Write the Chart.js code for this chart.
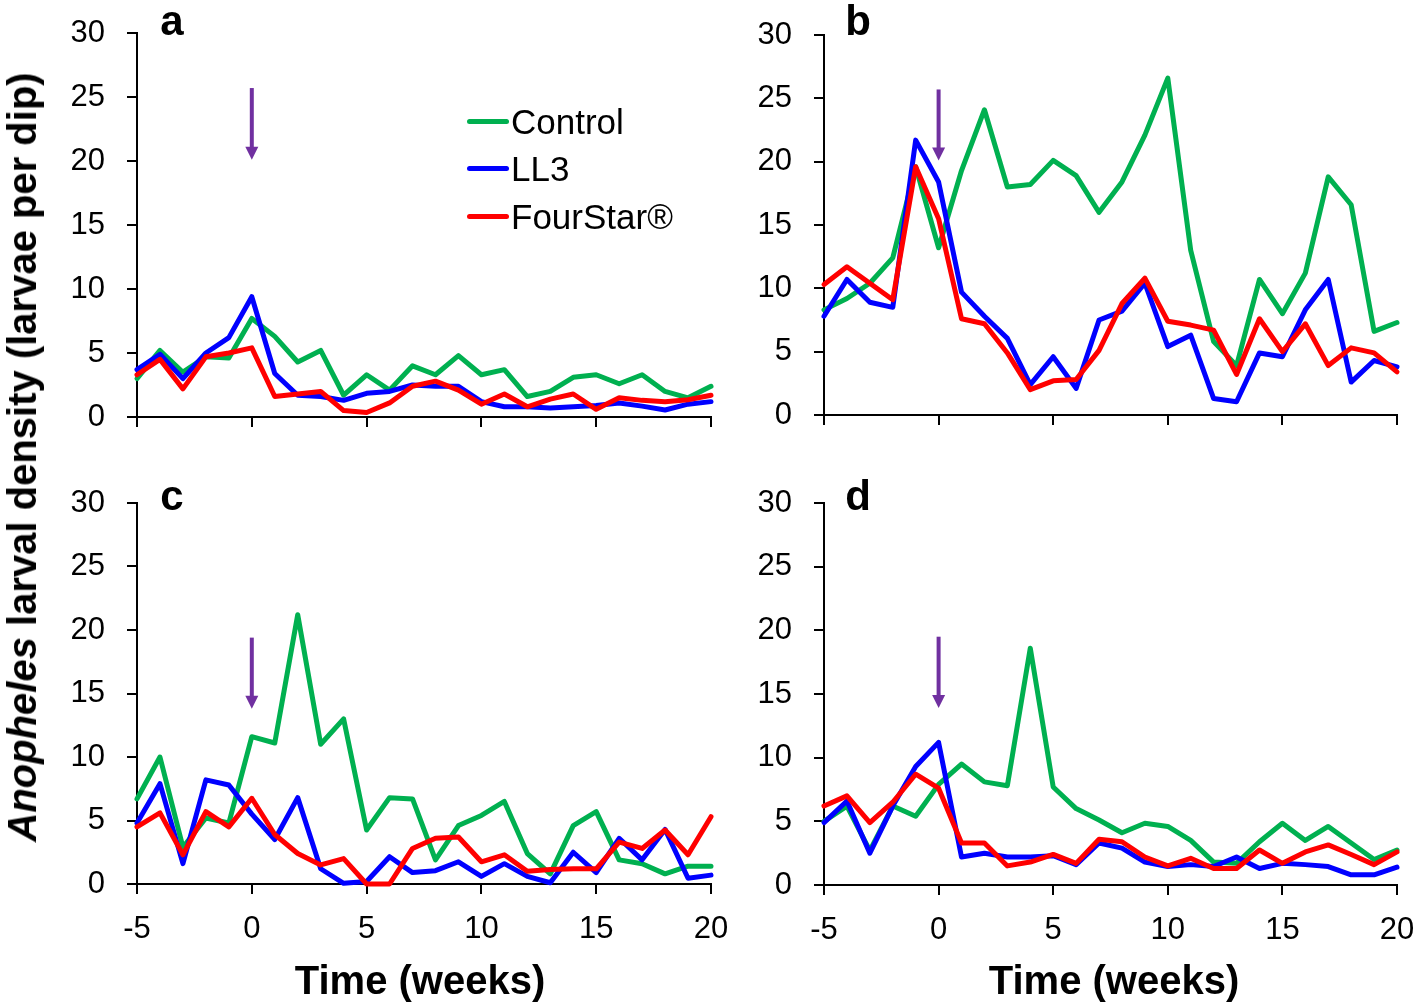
<!DOCTYPE html>
<html><head><meta charset="utf-8">
<script src="https://cdn.jsdelivr.net/npm/chart.js@4.4.1/dist/chart.umd.min.js"></script>
<style>
html,body{margin:0;padding:0;background:#fff;}
#wrap{position:relative;width:1418px;height:1005px;overflow:hidden;font-family:"Liberation Sans",Arial,sans-serif;background:#fff;}
canvas{position:absolute;}
.t{position:absolute;white-space:nowrap;color:#000;line-height:1;}
.c{transform:translate(-50%,-50%);}
.lg{position:absolute;height:5px;width:42px;border-radius:3px;}
</style></head><body><div id="wrap">
<canvas id="ca"></canvas><canvas id="cb"></canvas><canvas id="cc"></canvas><canvas id="cd"></canvas>
<div class="t c" style="left:22px;top:457px;transform:translate(-50%,-50%) rotate(-90deg);font-weight:bold;font-size:40px;"><i>Anopheles</i> larval density (larvae per dip)</div>
<div class="t c" style="left:420px;top:980px;font-weight:bold;font-size:40px;">Time (weeks)</div>
<div class="t c" style="left:1114px;top:980px;font-weight:bold;font-size:40px;">Time (weeks)</div>
<div class="t c" style="left:172px;top:21px;font-weight:bold;font-size:42px;">a</div>
<div class="t c" style="left:858px;top:21px;font-weight:bold;font-size:42px;">b</div>
<div class="t c" style="left:172px;top:496px;font-weight:bold;font-size:42px;">c</div>
<div class="t c" style="left:858px;top:496px;font-weight:bold;font-size:42px;">d</div>
<div class="lg" style="left:467px;top:119px;background:#00B050"></div>
<div class="lg" style="left:467px;top:166px;background:#0000FF"></div>
<div class="lg" style="left:467px;top:214px;background:#FF0000"></div>
<div class="t" style="left:511px;top:121px;transform:translateY(-50%);font-size:35px;">Control</div>
<div class="t" style="left:511px;top:168px;transform:translateY(-50%);font-size:35px;">LL3</div>
<div class="t" style="left:511px;top:216px;transform:translateY(-50%);font-size:35px;">FourStar®</div>
</div>
<script>
// ---- data ----
const weeks = [-5,-4,-3,-2,-1,0,1,2,3,4,5,6,7,8,9,10,11,12,13,14,15,16,17,18,19,20];
const xTicks = [-5,0,5,10,15,20];
const yTicks = [0,5,10,15,20,25,30];
const seriesNames = ['Control','LL3','FourStar®'];

const aControl  = [3.0,5.2,3.5,4.7,4.6,7.7,6.3,4.3,5.2,1.7,3.3,2.1,4.0,3.3,4.8,3.3,3.7,1.6,2.0,3.1,3.3,2.6,3.3,2.0,1.5,2.4];
const aLL3      = [3.7,4.9,3.0,5.0,6.2,9.4,3.4,1.7,1.6,1.3,1.85,2.0,2.5,2.4,2.4,1.2,0.8,0.8,0.7,0.8,0.9,1.1,0.85,0.55,1.0,1.2];
const aFourStar = [3.3,4.5,2.2,4.7,5.0,5.4,1.6,1.8,2.0,0.5,0.35,1.1,2.4,2.8,2.1,1.0,1.8,0.8,1.4,1.8,0.6,1.5,1.3,1.2,1.35,1.7];

const bControl  = [8.3,9.2,10.4,12.4,19.6,13.2,19.3,24.1,18.0,18.2,20.1,18.9,16.0,18.4,22.1,26.6,13.0,5.8,3.9,10.7,8.0,11.2,18.8,16.6,6.6,7.3];
const bLL3      = [7.8,10.7,8.9,8.5,21.7,18.4,9.7,7.8,6.05,2.4,4.6,2.1,7.5,8.2,10.4,5.4,6.3,1.3,1.05,4.9,4.6,8.3,10.7,2.6,4.3,3.8];
const bFourStar = [10.3,11.7,10.4,9.1,19.6,15.5,7.6,7.2,4.9,2.0,2.7,2.8,5.1,8.8,10.8,7.4,7.1,6.7,3.2,7.6,5.0,7.2,3.9,5.3,4.9,3.4];

const cControl  = [6.7,10.0,2.9,5.2,4.8,11.6,11.1,21.2,11.0,13.0,4.25,6.8,6.7,1.9,4.6,5.4,6.5,2.4,0.8,4.6,5.7,1.9,1.6,0.8,1.4,1.4];
const cLL3      = [4.8,7.9,1.6,8.2,7.8,5.5,3.5,6.8,1.2,0.05,0.2,2.15,0.9,1.05,1.75,0.6,1.6,0.6,0.1,2.5,0.9,3.6,1.9,4.3,0.45,0.7];
const cFourStar = [4.5,5.6,2.3,5.7,4.5,6.75,3.9,2.4,1.5,2.0,0,0,2.8,3.6,3.7,1.75,2.3,1.0,1.15,1.2,1.2,3.3,2.8,4.25,2.3,5.3];

const dControl  = [5.0,6.2,2.7,6.2,5.4,7.9,9.5,8.1,7.8,18.6,7.7,6.0,5.1,4.1,4.85,4.6,3.5,1.8,1.7,3.4,4.85,3.5,4.6,3.3,2.0,2.75];
const dLL3      = [4.9,6.6,2.5,6.2,9.3,11.2,2.2,2.5,2.2,2.2,2.3,1.6,3.3,2.9,1.8,1.45,1.6,1.45,2.2,1.3,1.7,1.6,1.45,0.8,0.8,1.4];
const dFourStar = [6.2,7.0,4.9,6.5,8.7,7.6,3.3,3.3,1.5,1.8,2.4,1.7,3.6,3.4,2.2,1.5,2.1,1.3,1.3,2.75,1.7,2.6,3.15,2.4,1.6,2.6];

// treatment arrow: week, from value, to value
const arrowA = [0, 25.7, 20.1];
const arrowB = [0, 25.7, 20.1];
const arrowC = [0, 19.4, 13.8];
const arrowD = [0, 19.5, 13.9];

// ---- drawing ----
const GREEN = '#00B050', BLUE = '#0000FF', RED = '#FF0000', PURPLE = '#7030A0';
const tickFont = {family:'"Liberation Sans", Arial, sans-serif', size:31};

const arrowPlugin = {
  id:'arrow',
  afterDatasetsDraw(chart, args, o){
    const {ctx} = chart, x = chart.scales.x, y = chart.scales.y;
    const px = x.getPixelForValue(o.a[0]);
    const y1 = y.getPixelForValue(o.a[1]), y2 = y.getPixelForValue(o.a[2]);
    ctx.save();
    ctx.strokeStyle = PURPLE; ctx.fillStyle = PURPLE; ctx.lineWidth = 4;
    ctx.beginPath(); ctx.moveTo(px, y1); ctx.lineTo(px, y2 - 10); ctx.stroke();
    ctx.beginPath(); ctx.moveTo(px - 6.5, y2 - 13); ctx.lineTo(px + 6.5, y2 - 13); ctx.lineTo(px, y2); ctx.closePath(); ctx.fill();
    ctx.restore();
  }
};

function pts(vals){ return weeks.map((w,i)=>({x:w, y:vals[i]})); }
function noPad(s){ s.paddingTop = 0; s.paddingBottom = 0; s.paddingLeft = 0; s.paddingRight = 0; }

function panel(id, box, area, ctrl, ll3, fs, arrow, showX){
  const c = document.getElementById(id);
  c.style.left = box[0]+'px'; c.style.top = box[1]+'px';
  c.width = box[2]; c.height = box[3];
  const [L,T,R,B] = area;
  const axisGrid = {drawOnChartArea:false, drawTicks:true, tickLength:10, color:'#000', lineWidth:2};
  const axisBorder = {display:true, color:'#000', width:2};
  new Chart(c, {
    type:'line',
    data:{datasets:[
      {label:seriesNames[0], data:pts(ctrl), borderColor:GREEN, order:3, clip:false},
      {label:seriesNames[1], data:pts(ll3),  borderColor:BLUE,  order:2, clip:false},
      {label:seriesNames[2], data:pts(fs),   borderColor:RED,   order:1, clip:false}
    ]},
    options:{
      responsive:false, animation:false, events:[],
      layout:{padding:{top:T-box[1], right:box[0]+box[2]-R, left:0, bottom:0}},
      elements:{point:{radius:0}, line:{borderWidth:5, tension:0, borderJoinStyle:'round', borderCapStyle:'round', fill:false}},
      plugins:{legend:{display:false}, tooltip:{enabled:false}, arrow:{a:arrow}},
      scales:{
        x:{type:'linear', min:xTicks[0], max:xTicks[xTicks.length-1],
           afterBuildTicks(s){ s.ticks = xTicks.map(v=>({value:v})); },
           ticks:{display:showX, font:tickFont, color:'#000', padding:17, maxRotation:0, autoSkip:false},
           grid:axisGrid, border:axisBorder,
           afterFit(s){ s.height = box[1]+box[3]-B; noPad(s); }},
        y:{type:'linear', min:yTicks[0], max:yTicks[yTicks.length-1],
           afterBuildTicks(s){ s.ticks = yTicks.map(v=>({value:v})); },
           ticks:{font:tickFont, color:'#000', padding:22},
           grid:axisGrid, border:axisBorder,
           afterFit(s){ s.width = L-box[0]; noPad(s); }}
      }
    },
    plugins:[arrowPlugin]
  });
}

panel('ca', [0,0,760,470],    [137,33,711,417],  aControl, aLL3, aFourStar, arrowA, false);
panel('cb', [700,0,718,470],  [824,35,1397,415], bControl, bLL3, bFourStar, arrowB, false);
panel('cc', [0,470,760,535],  [137,503,711,884], cControl, cLL3, cFourStar, arrowC, true);
panel('cd', [700,470,718,535],[824,503,1397,885],dControl, dLL3, dFourStar, arrowD, true);
</script></body></html>
